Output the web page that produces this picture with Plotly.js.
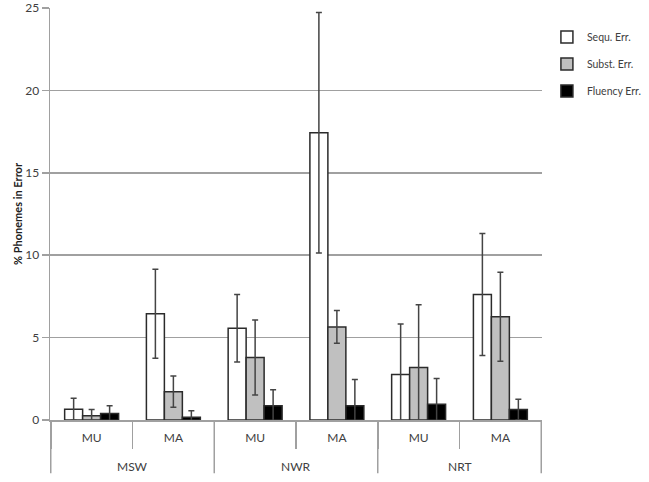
<!DOCTYPE html>
<html>
<head>
<meta charset="utf-8">
<script src="https://cdn.plot.ly/plotly-3.0.1.min.js"></script>
<style>
  html, body { margin: 0; padding: 0; background: #fff; }
  #chart { width: 649px; height: 482px; }
</style>
</head>
<body>
<div id="chart"></div>
<script>
// Tasks (outer group) and conditions (inner group)
const tasks = ['MSW', 'MSW', 'NWR', 'NWR', 'NRT', 'NRT'];
const conditions = ['MU', 'MA', 'MU', 'MA', 'MU', 'MA'];
const taskGroups = ['MSW', 'NWR', 'NRT'];

// Mean % phonemes in error, per error type
const sequErr = [0.65, 6.44, 5.57, 17.43, 2.76, 7.61];
const substErr = [0.26, 1.72, 3.79, 5.65, 3.18, 6.27];
const fluencyErr = [0.40, 0.16, 0.87, 0.87, 0.95, 0.63];

// Error bar sizes (symmetric)
const sequSd = [0.67, 2.70, 2.05, 7.29, 3.06, 3.70];
const substSd = [0.37, 0.95, 2.28, 1.00, 3.82, 2.70];
const fluencySd = [0.47, 0.40, 0.97, 1.58, 1.57, 0.63];

const seriesNames = ['Sequ. Err.', 'Subst. Err.', 'Fluency Err.'];
const fills = ['#ffffff', '#c0c0c0', '#000000'];

// unique category keys, shown with the condition label only
const keys = tasks.map((t, i) => t + ' ' + conditions[i]);

function makeTrace(name, values, errs, fill, i) {
  return {
    type: 'bar',
    name: name,
    x: keys,
    y: values,
    legendgroup: 'g' + i,
    marker: { color: fill, line: { color: '#2b2b2b', width: 1.5 } },
    error_y: {
      type: 'data',
      array: errs,
      visible: true,
      color: '#444444',
      thickness: 1.5,
      width: 3
    }
  };
}

const data = [
  makeTrace(seriesNames[0], sequErr, sequSd, fills[0], 0),
  makeTrace(seriesNames[1], substErr, substSd, fills[1], 1),
  makeTrace(seriesNames[2], fluencyErr, fluencySd, fills[2], 2)
];

// group labels and dividers below the axis
const groupSize = 2;
const annotations = taskGroups.map((g, k) => ({
  text: g,
  xref: 'x',
  yref: 'paper',
  x: k * groupSize + (groupSize - 1) / 2,
  y: -0.112,
  xanchor: 'center',
  yanchor: 'middle',
  showarrow: false,
  font: { size: 12, color: '#404040' }
}));

const shapes = [];
for (let k = 0; k <= taskGroups.length; k++) {
  shapes.push({
    type: 'line',
    xref: 'x',
    yref: 'paper',
    x0: k * groupSize - 0.5,
    x1: k * groupSize - 0.5,
    y0: 0,
    y1: -0.129,
    line: { color: '#a0a0a0', width: 1.5 }
  });
}

const layout = {
  width: 649,
  height: 482,
  paper_bgcolor: '#ffffff',
  plot_bgcolor: '#ffffff',
  font: { family: 'Lato, sans-serif', color: '#404040', size: 12 },
  margin: { t: 8, r: 107, b: 62, l: 50, autoexpand: false },
  barmode: 'group',
  bargap: 0.34,
  bargroupgap: 0,
  showlegend: true,
  annotations: annotations,
  shapes: shapes,
  legend: {
    x: 1.01,
    y: 0.965,
    xanchor: 'left',
    yanchor: 'top',
    traceorder: 'grouped',
    tracegroupgap: 8,
    font: { size: 10.5, color: '#404040' },
    itemwidth: 30
  },
  xaxis: {
    type: 'category',
    tickvals: keys,
    ticktext: conditions,
    showline: true,
    linecolor: '#a0a0a0',
    linewidth: 1.5,
    ticks: 'outside',
    tickson: 'boundaries',
    ticklen: 27,
    tickcolor: '#a0a0a0',
    tickwidth: 1.5,
    ticklabelstandoff: 6,
    showgrid: false,
    tickfont: { size: 12, color: '#404040' }
  },
  yaxis: {
    range: [0, 25],
    dtick: 5,
    showgrid: true,
    gridcolor: '#a0a0a0',
    gridwidth: 1.5,
    zeroline: false,
    showline: true,
    linecolor: '#a0a0a0',
    linewidth: 1.5,
    ticks: 'outside',
    ticklen: 7,
    tickcolor: '#a0a0a0',
    tickwidth: 1.5,
    tickfont: { size: 12, color: '#404040' },
    title: {
      text: '% Phonemes in Error',
      font: { size: 11, color: '#202020', weight: 'bold' },
      standoff: 0
    }
  }
};

Plotly.newPlot('chart', data, layout, { displayModeBar: false, staticPlot: true });
</script>
</body>
</html>
